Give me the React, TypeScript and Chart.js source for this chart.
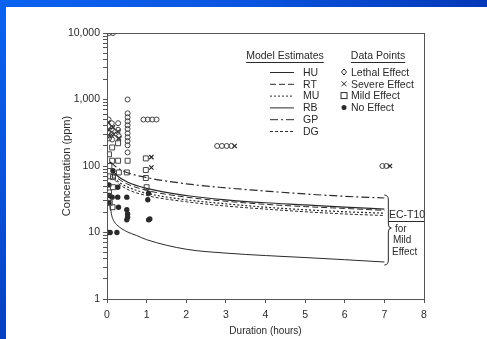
import React, { useEffect, useRef } from "react";
import { Chart, registerables } from "chart.js";

Chart.register(...registerables);

// ---------- data ----------
const xTickValues = [0, 1, 2, 3, 4, 5, 6, 7, 8];
const yTickValues = [
  1, 2, 3, 4, 5, 6, 7, 8, 9,
  10, 20, 30, 40, 50, 60, 70, 80, 90,
  100, 200, 300, 400, 500, 600, 700, 800, 900,
  1000, 2000, 3000, 4000, 5000, 6000, 7000, 8000, 9000,
  10000,
];
const yMajorLabels: Record<number, string> = {
  1: "1",
  10: "10",
  100: "100",
  1000: "1,000",
  10000: "10,000",
};

// model estimate curves (duration h, concentration ppm)
const curveT_HU = [0.08, 0.12, 0.17, 0.25, 0.5, 0.75, 1, 2, 3, 4, 5, 6, 7];
const HU = [25, 18, 15, 13, 10.3, 9, 7.8, 5.6, 4.9, 4.5, 4.2, 3.9, 3.6];

const curveT_band = [0.12, 0.25, 0.5, 1, 2, 3, 4, 5, 6, 7];
const RB = [88, 72, 58, 46, 36, 31, 28, 26, 24, 22.5];
const RT = [82, 67, 54, 43, 34, 29.5, 26.5, 24.5, 23, 21.5];
const MU = [75, 61, 49, 39, 31, 27, 24, 22, 20.5, 19.5];
const DG = [70, 57, 45, 36, 29, 25, 22.5, 20.5, 19, 18];

const curveT_GP = [0.08, 0.25, 0.5, 1, 2, 3, 4, 5, 6, 7];
const GP = [115, 95, 80, 67, 54, 47, 42, 38, 35, 33];

// data points
const lethalT = [
  0.05, 0.15, 0.04, 0.04, 0.04, 0.05, 0.12, 0.12, 0.12, 0.13, 0.28, 0.28, 0.3,
  0.52, 0.52, 0.52, 0.52, 0.52, 0.52, 0.52, 0.52, 0.52, 0.52, 0.52,
  0.92, 1.03, 1.14, 1.25, 2.78, 2.9, 3.02, 3.14, 6.95, 7.05,
];
const lethalC = [
  10000, 10000, 500, 400, 320, 260, 440, 360, 300, 250, 440, 350, 280,
  1000, 620, 540, 470, 410, 360, 310, 270, 237, 205, 160,
  500, 500, 500, 500, 200, 200, 200, 200, 100, 100,
];

const severeT = [0.03, 0.05, 0.07, 0.15, 0.17, 0.28, 0.3, 1.12, 1.12, 3.22, 7.14];
const severeC = [450, 350, 280, 380, 300, 330, 260, 136, 95, 200, 100];

const mildT = [
  0.05, 0.06, 0.08, 0.13, 0.13, 0.15, 0.15, 0.14, 0.28, 0.28, 0.3,
  0.52, 0.5, 0.98, 0.98, 0.98, 1.0, 0.05, 0.07,
];
const mildC = [
  150, 100, 70, 190, 120, 68, 48, 24, 220, 120, 80,
  120, 80, 130, 87, 66, 48, 40, 28,
];

const noEffectT = [
  0.03, 0.08, 0.25, 0.05, 0.06, 0.15, 0.13, 0.27, 0.27, 0.29,
  0.5, 0.5, 0.52, 0.52, 0.5, 1.05, 1.03, 1.05, 1.08, 0.05,
];
const noEffectC = [
  10, 10, 10, 52, 36, 85, 34, 48, 34, 24,
  34, 22, 19, 17, 15.5, 39, 31, 15.5, 16, 28,
];

const modelNames = ["HU", "RT", "MU", "RB", "GP", "DG"];
const pointNames = ["Lethal Effect", "Severe Effect", "Mild Effect", "No Effect"];

// ---------- styles ----------
const INK = "#2a2a2a";
const FONT = "'Liberation Sans', Arial, sans-serif";
const dashes: Record<string, number[]> = {
  HU: [],
  RT: [6, 3],
  MU: [2, 2],
  RB: [],
  GP: [8, 3, 2, 3],
  DG: [3, 2],
};

const pts = (t: number[], c: number[]) => t.map((x, i) => ({ x, y: c[i] }));

const lineDs = (label: string, t: number[], c: number[], width = 1) => ({
  type: "line" as const,
  label,
  data: pts(t, c),
  borderColor: INK,
  borderWidth: width,
  borderDash: dashes[label],
  pointRadius: 0,
  showLine: true,
  fill: false,
  cubicInterpolationMode: "monotone" as const,
});

const overlayPlugin = {
  id: "overlay",
  afterDraw(chart: any) {
    const { ctx, chartArea } = chart;
    const xs = chart.scales.x;
    const ys = chart.scales.y;
    ctx.save();
    // frame
    ctx.strokeStyle = "#555";
    ctx.lineWidth = 1;
    ctx.strokeRect(
      Math.round(chartArea.left) + 0.5,
      Math.round(chartArea.top) + 0.5,
      Math.round(chartArea.right - chartArea.left),
      Math.round(chartArea.bottom - chartArea.top)
    );

    ctx.fillStyle = INK;
    ctx.strokeStyle = INK;
    ctx.textBaseline = "middle";

    // legend headers
    ctx.font = `10.5px ${FONT}`;
    const header = (text: string, cx: number, y: number) => {
      ctx.textAlign = "center";
      ctx.fillText(text, cx, y);
      const w = ctx.measureText(text).width;
      ctx.beginPath();
      ctx.lineWidth = 1;
      ctx.moveTo(cx - w / 2, y + 6.5);
      ctx.lineTo(cx + w / 2, y + 6.5);
      ctx.stroke();
    };
    header("Model Estimates", 285, 56);
    header("Data Points", 378, 56);

    // model legend
    modelNames.forEach((name, i) => {
      const y = 72 + i * 11.8;
      ctx.beginPath();
      ctx.setLineDash(dashes[name]);
      ctx.lineWidth = 1;
      ctx.moveTo(270, y + 0.5);
      ctx.lineTo(294, y + 0.5);
      ctx.stroke();
      ctx.setLineDash([]);
      ctx.textAlign = "left";
      ctx.fillText(name, 303, y + 1);
    });

    // data points legend
    pointNames.forEach((name, i) => {
      const y = 72 + i * 11.8;
      const sx = 344;
      ctx.lineWidth = 1;
      ctx.beginPath();
      if (i === 0) {
        ctx.moveTo(sx, y - 3);
        ctx.lineTo(sx + 2.5, y);
        ctx.lineTo(sx, y + 3);
        ctx.lineTo(sx - 2.5, y);
        ctx.closePath();
        ctx.stroke();
      } else if (i === 1) {
        ctx.moveTo(sx - 2.5, y - 2.5);
        ctx.lineTo(sx + 2.5, y + 2.5);
        ctx.moveTo(sx + 2.5, y - 2.5);
        ctx.lineTo(sx - 2.5, y + 2.5);
        ctx.stroke();
      } else if (i === 2) {
        ctx.strokeRect(sx - 3, y - 3, 6, 6);
      } else {
        ctx.arc(sx, y, 2.5, 0, Math.PI * 2);
        ctx.fill();
      }
      ctx.textAlign = "left";
      ctx.fillText(name, 351, y + 1);
    });

    // brace spanning the model curves at 7 h
    const bx = xs.getPixelForValue(7.05);
    const top = ys.getPixelForValue(GP[GP.length - 1]) - 3;
    const bot = ys.getPixelForValue(HU[HU.length - 1]) + 3;
    const mid = (top + bot) / 2 - 2;
    ctx.beginPath();
    ctx.lineWidth = 1;
    ctx.moveTo(bx - 2, top);
    ctx.quadraticCurveTo(bx + 2, top, bx + 2, top + 5);
    ctx.lineTo(bx + 2, mid - 4);
    ctx.quadraticCurveTo(bx + 2, mid, bx + 5, mid);
    ctx.quadraticCurveTo(bx + 2, mid, bx + 2, mid + 4);
    ctx.lineTo(bx + 2, bot - 5);
    ctx.quadraticCurveTo(bx + 2, bot, bx - 2, bot);
    ctx.stroke();

    // EC-T10 note
    ctx.font = `10.5px ${FONT}`;
    ctx.textAlign = "left";
    ctx.fillText("EC-T10", 389, 215);
    ctx.beginPath();
    ctx.moveTo(388, 221.5);
    ctx.lineTo(chartArea.right, 221.5);
    ctx.stroke();
    ctx.font = `10px ${FONT}`;
    ctx.fillText("for", 395, 229);
    ctx.fillText("Mild", 393, 240.5);
    ctx.fillText("Effect", 392, 252);
    ctx.restore();
  },
};

export default function App() {
  const ref = useRef<HTMLCanvasElement | null>(null);

  useEffect(() => {
    if (!ref.current) return;
    const chart = new Chart(ref.current, {
      type: "scatter",
      data: {
        datasets: [
          lineDs("HU", curveT_HU, HU, 1),
          lineDs("RT", curveT_band, RT, 1),
          lineDs("MU", curveT_band, MU, 1.2),
          lineDs("RB", curveT_band, RB, 1.2),
          lineDs("GP", curveT_GP, GP, 1.2),
          lineDs("DG", curveT_band, DG, 1),
          {
            label: "Lethal Effect",
            data: pts(lethalT, lethalC),
            pointStyle: "circle",
            pointRadius: 2.5,
            borderColor: "#444",
            backgroundColor: "rgba(255,255,255,0)",
            borderWidth: 1,
          },
          {
            label: "Severe Effect",
            data: pts(severeT, severeC),
            pointStyle: "crossRot",
            pointRadius: 3,
            borderColor: INK,
            borderWidth: 1.3,
          },
          {
            label: "Mild Effect",
            data: pts(mildT, mildC),
            pointStyle: "rect",
            pointRadius: 3.5,
            borderColor: "#444",
            backgroundColor: "rgba(255,255,255,0)",
            borderWidth: 1,
          },
          {
            label: "No Effect",
            data: pts(noEffectT, noEffectC),
            pointStyle: "circle",
            pointRadius: 2.7,
            borderColor: INK,
            backgroundColor: INK,
            borderWidth: 0,
          },
        ] as any,
      },
      options: {
        responsive: false,
        animation: false,
        devicePixelRatio: 1,
        layout: { padding: { left: 55, right: 63, top: 33, bottom: 0 } },
        plugins: {
          legend: { display: false },
          tooltip: { enabled: false },
        },
        scales: {
          x: {
            type: "linear",
            min: 0,
            max: 8,
            afterFit: (s: any) => {
              s.height = 40;
            },
            afterBuildTicks: (s: any) => {
              s.ticks = xTickValues.map((v) => ({ value: v }));
            },
            ticks: {
              color: INK,
              font: { family: FONT, size: 10.5 },
              padding: 6,
              autoSkip: false,
              maxRotation: 0,
              callback: (v: any) => String(v),
            },
            grid: {
              display: true,
              drawOnChartArea: false,
              drawTicks: true,
              tickLength: 4,
              color: "#555",
            },
            border: { display: true, color: "#555" },
            title: {
              display: true,
              text: "Duration (hours)",
              color: INK,
              font: { family: FONT, size: 10 },
              padding: { top: 0, bottom: 2 },
            },
          },
          y: {
            type: "logarithmic",
            min: 1,
            max: 10000,
            afterFit: (s: any) => {
              s.width = 52;
            },
            afterBuildTicks: (s: any) => {
              s.ticks = yTickValues.map((v) => ({ value: v }));
            },
            ticks: {
              color: INK,
              font: { family: FONT, size: 10.5 },
              padding: 3,
              autoSkip: false,
              callback: (v: any) => yMajorLabels[Number(v)] ?? "",
            },
            grid: {
              display: true,
              drawOnChartArea: false,
              drawTicks: true,
              tickLength: 4,
              color: "#555",
            },
            border: { display: true, color: "#555" },
            title: {
              display: true,
              text: "Concentration (ppm)",
              color: INK,
              font: { family: FONT, size: 11 },
              padding: { top: 5, bottom: 0 },
            },
          },
        },
      } as any,
      plugins: [overlayPlugin],
    });
    return () => chart.destroy();
  }, []);

  return (
    <div
      style={{
        position: "fixed",
        left: 0,
        top: 0,
        width: 487,
        height: 339,
        background: "#ffffff",
        overflow: "hidden",
      }}
    >
      <div
        style={{
          position: "absolute",
          left: 0,
          top: 0,
          width: 487,
          height: 7,
          background: "linear-gradient(90deg, #0b62f0 0%, #0a55e0 50%, #0338b8 100%)",
        }}
      />
      <div
        style={{
          position: "absolute",
          left: 0,
          top: 0,
          width: 6,
          height: 339,
          background: "linear-gradient(180deg, #0b62f0 0%, #0a4fd8 60%, #0640c0 100%)",
        }}
      />
      <canvas
        ref={ref}
        width={487}
        height={339}
        style={{ position: "absolute", left: 0, top: 0, width: 487, height: 339 }}
      />
    </div>
  );
}
